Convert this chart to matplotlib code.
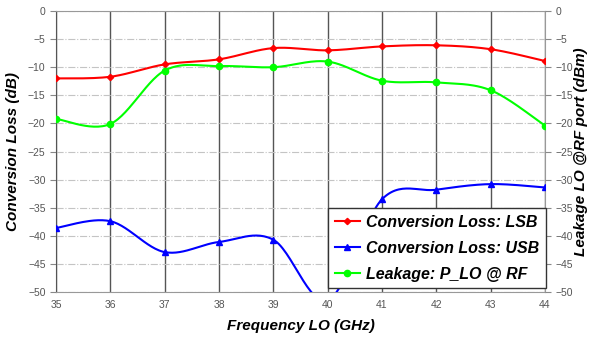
import numpy as np
import matplotlib
matplotlib.use("Agg")
import matplotlib.pyplot as plt

plt.rcParams["font.family"] = ["Liberation Sans", "DejaVu Sans"]

freq = [35, 36, 37, 38, 39, 40, 41, 42, 43, 44]
loss_lsb = [-12.0, -11.7, -9.5, -8.6, -6.6, -7.0, -6.3, -6.1, -6.8, -8.9]
loss_usb = [-38.6, -37.4, -42.9, -41.1, -40.7, -51.5, -33.5, -31.8, -30.8, -31.4]
leak_lo = [-19.2, -20.1, -10.6, -9.8, -10.0, -9.0, -12.4, -12.7, -14.1, -20.4]


def smooth(x, y, n=30):
    # Excel-style smoothed line: cubic Bezier with Catmull-Rom control points
    x = np.asarray(x, float)
    y = np.asarray(y, float)
    px = np.concatenate([[x[0]], x, [x[-1]]])
    py = np.concatenate([[y[0]], y, [y[-1]]])
    xs, ys = [], []
    t = np.linspace(0, 1, n)
    for i in range(1, len(px) - 2):
        p0 = np.array([px[i], py[i]])
        p3 = np.array([px[i + 1], py[i + 1]])
        p1 = p0 + (np.array([px[i + 1], py[i + 1]]) - np.array([px[i - 1], py[i - 1]])) / 6
        p2 = p3 - (np.array([px[i + 2], py[i + 2]]) - np.array([px[i], py[i]])) / 6
        b = ((1 - t) ** 3)[:, None] * p0 + (3 * (1 - t) ** 2 * t)[:, None] * p1 \
            + (3 * (1 - t) * t ** 2)[:, None] * p2 + (t ** 3)[:, None] * p3
        xs.extend(b[:, 0])
        ys.extend(b[:, 1])
    return xs, ys


fig = plt.figure(figsize=(5.89, 3.38), dpi=100)
ax = fig.add_axes([56 / 589, 1 - 292 / 338, 489 / 589, 281 / 338])

series = [
    (loss_lsb, "#ff0000", "D", 3.2, "Conversion Loss: LSB"),
    (loss_usb, "#0000ff", "^", 5, "Conversion Loss: USB"),
    (leak_lo, "#00ff00", "o", 4.5, "Leakage: P_LO @ RF"),
]
for vals, col, mk, ms, lab in series:
    sx, sy = smooth(freq, vals)
    ax.plot(sx, sy, color=col, lw=1.5, zorder=3)
    ax.plot(freq, vals, ls="none", marker=mk, ms=ms, color=col, zorder=4)
    ax.plot([], [], color=col, lw=1.5, marker=mk, ms=ms, label=lab)

ax.set_xlim(35, 44)
ax.set_ylim(-50, 0)
ax.set_xticks(freq)
ax.set_yticks(np.arange(-50, 1, 5))
ax.grid(axis="y", color="#c4c4c4", ls="-.", lw=0.8)
for f in freq:
    ax.axvline(f, color="#555555", lw=1, zorder=1)

for s in ["top", "bottom", "right"]:
    ax.spines[s].set_color("#999999")
ax.spines["left"].set_color("#555555")
ax.tick_params(axis="both", labelsize=7.5, labelcolor="#555555", color="#888888",
               length=4, width=0.8)
ax.tick_params(axis="x", length=0, pad=6)

ax2 = ax.twinx()
ax2.set_ylim(-50, 0)
ax2.set_yticks(np.arange(-50, 1, 5))
ax2.tick_params(axis="y", labelsize=7.5, labelcolor="#555555", color="#888888",
                length=4, width=0.8)
for s in ax2.spines.values():
    s.set_visible(False)

lab_font = dict(fontsize=11, fontweight="bold", fontstyle="italic", color="black")
ax.set_xlabel("Frequency LO (GHz)", labelpad=6, **lab_font)
ax.set_ylabel("Conversion Loss (dB)", labelpad=6, **lab_font)
ax2.set_ylabel("Leakage LO @RF port (dBm)", labelpad=1, **lab_font)

leg = ax2.legend(*ax.get_legend_handles_labels(), loc="lower right",
                 bbox_to_anchor=(1.002, 0.013), fancybox=False, framealpha=1,
                 edgecolor="#333333", borderpad=0.4, labelspacing=0.7,
                 handlelength=1.6, handletextpad=0.4, borderaxespad=0,
                 prop=dict(size=11.5, weight="bold", style="italic"))
leg.get_frame().set_linewidth(1.0)
leg.set_zorder(10)

fig.savefig("out.png", dpi=100)
